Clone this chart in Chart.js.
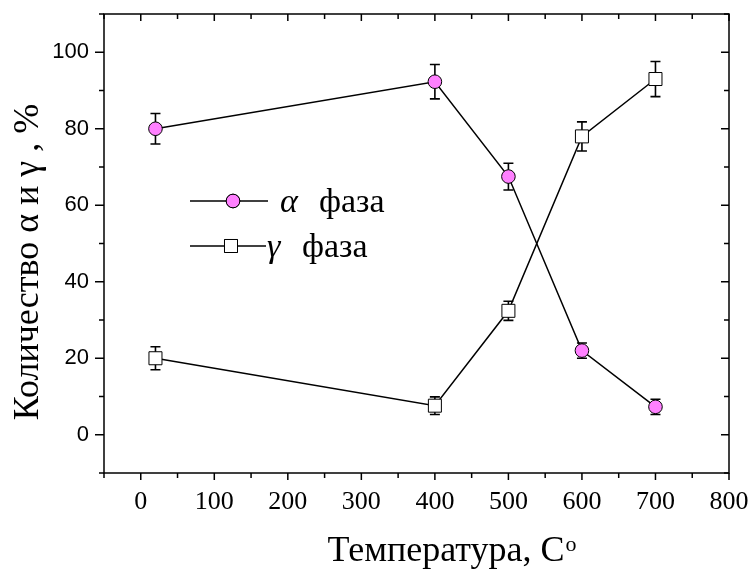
<!DOCTYPE html>
<html>
<head>
<meta charset="utf-8">
<script src="https://cdn.jsdelivr.net/npm/chart.js@4.4.1/dist/chart.umd.min.js"></script>
<style>
    html, body { margin: 0; padding: 0; background: #fff; }
</style>
</head>
<body>
<canvas id="chart" width="751" height="570"></canvas>
<script>
// dades llegides de la figura
const temperatura = [20, 400, 500, 600, 700];
const alfaFaza = [80, 92.3, 67.5, 22, 7.3];
const alfaErr = [4, 4.5, 3.5, 2, 2];
const gamaFaza = [20, 7.6, 32.4, 78, 93];
const gamaErr = [3, 2.3, 2.5, 3.8, 4.6];
const xEtiquetes = [0, 100, 200, 300, 400, 500, 600, 700, 800];
const yEtiquetes = [0, 20, 40, 60, 80, 100];

const serif = '"Liberation Serif", "Times New Roman", serif';
const sans = '"Liberation Sans", Arial, sans-serif';
const rosa = '#ff80ff';

function punts(xs, ys) {
    return xs.map((x, i) => ({ x: x, y: ys[i] }));
}

// barres d'error, sota els marcadors
const errorBars = {
    id: 'errorBars',
    beforeDatasetsDraw(chart) {
        const ctx = chart.ctx;
        const xs = chart.scales.x, ys = chart.scales.y;
        const errs = [alfaErr, gamaErr];
        ctx.save();
        ctx.strokeStyle = '#000';
        ctx.lineWidth = 1.6;
        chart.data.datasets.forEach((ds, d) => {
            ds.data.forEach((p, i) => {
                const px = xs.getPixelForValue(p.x);
                const top = ys.getPixelForValue(p.y + errs[d][i]);
                const bot = ys.getPixelForValue(p.y - errs[d][i]);
                ctx.beginPath();
                ctx.moveTo(px, top); ctx.lineTo(px, bot);
                ctx.moveTo(px - 5, top); ctx.lineTo(px + 5, top);
                ctx.moveTo(px - 5, bot); ctx.lineTo(px + 5, bot);
                ctx.stroke();
            });
        });
        ctx.restore();
    }
};

// marc, marques dels eixos, llegenda i títols
const marc = {
    id: 'marc',
    afterDraw(chart) {
        const ctx = chart.ctx;
        const a = chart.chartArea;
        const xs = chart.scales.x, ys = chart.scales.y;
        ctx.save();
        ctx.strokeStyle = '#000';
        ctx.lineWidth = 1.5;
        ctx.strokeRect(a.left, a.top, a.right - a.left, a.bottom - a.top);

        ctx.beginPath();
        for (let v = -10; v <= 110; v += 10) {
            const y = ys.getPixelForValue(v);
            const major = v % 20 === 0;
            ctx.moveTo(a.left, y); ctx.lineTo(a.left - (major ? 9 : 5), y);
            ctx.moveTo(a.right, y); ctx.lineTo(a.right - (major ? 8 : 5), y);
        }
        for (let v = -50; v <= 800; v += 50) {
            const x = xs.getPixelForValue(v);
            const major = v % 100 === 0;
            ctx.moveTo(x, a.bottom); ctx.lineTo(x, a.bottom + (major ? 7 : 5));
            ctx.moveTo(x, a.top); ctx.lineTo(x, a.top + (major ? 7 : 5));
        }
        ctx.stroke();

        // llegenda
        const files = [
            { y: 201, x1: 190, x2: 268, mx: 233, estil: 'circle', r: 6.8, fons: rosa, lletra: 'α', tx: 280, fx: 319 },
            { y: 246, x1: 190, x2: 266, mx: 231, estil: 'rect', r: 9.2, fons: '#fff', lletra: 'γ', tx: 267, fx: 302 }
        ];
        files.forEach(f => {
            ctx.lineWidth = 1.5;
            ctx.strokeStyle = '#000';
            ctx.beginPath();
            ctx.moveTo(f.x1, f.y); ctx.lineTo(f.x2, f.y);
            ctx.stroke();
            ctx.fillStyle = f.fons;
            ctx.lineWidth = 1;
            Chart.helpers.drawPoint(ctx, { pointStyle: f.estil, radius: f.r, borderWidth: 1 }, f.mx, f.y);
            ctx.fill();
            ctx.stroke();
            ctx.fillStyle = '#000';
            ctx.textBaseline = 'alphabetic';
            ctx.textAlign = 'left';
            ctx.font = 'italic 34px ' + serif;
            ctx.fillText(f.lletra, f.tx, f.y + 11);
            ctx.font = '34px ' + serif;
            ctx.fillText('фаза', f.fx, f.y + 11);
        });

        // títols dels eixos
        ctx.font = '36px ' + serif;
        ctx.textAlign = 'left';
        const titolX = 'Температура, C';
        const w = ctx.measureText(titolX).width;
        const x0 = 446 - w / 2;
        ctx.fillText(titolX, x0, 561);
        ctx.font = '22px ' + serif;
        ctx.fillText('o', x0 + w + 1, 551);

        ctx.translate(38, 262);
        ctx.rotate(-Math.PI / 2);
        ctx.textAlign = 'center';
        ctx.font = '36px ' + serif;
        ctx.fillText('Количество α и γ , %', 0, 0);
        ctx.restore();
    }
};

const ctx = document.getElementById('chart');
const myChart = new Chart(ctx, {
    type: 'line',
    data: {
        datasets: [{
            label: 'α фаза',
            data: punts(temperatura, alfaFaza),
            borderColor: '#000',
            borderWidth: 1.5,
            pointStyle: 'circle',
            pointRadius: 6.8,
            pointBackgroundColor: rosa,
            pointBorderColor: '#000',
            pointBorderWidth: 1
        }, {
            label: 'γ фаза',
            data: punts(temperatura, gamaFaza),
            borderColor: '#000',
            borderWidth: 1.5,
            pointStyle: 'rect',
            pointRadius: 9.2,
            pointBackgroundColor: '#fff',
            pointBorderColor: '#000',
            pointBorderWidth: 1
        }]
    },
    options: {
        responsive: false,
        animation: false,
        layout: { padding: { left: 0, right: 22, top: 14, bottom: 0 } },
        plugins: {
            legend: { display: false },
            tooltip: { enabled: false }
        },
        scales: {
            x: {
                type: 'linear',
                min: -50,
                max: 800,
                grid: { drawOnChartArea: false, drawTicks: false },
                border: { display: false },
                afterFit: (s) => { s.height = 97; s.paddingLeft = 0; s.paddingRight = 0; },
                afterBuildTicks: (s) => { s.ticks = xEtiquetes.map(v => ({ value: v })); },
                ticks: {
                    padding: 14,
                    color: '#000',
                    font: { family: serif, size: 26 },
                    maxRotation: 0
                }
            },
            y: {
                min: -10,
                max: 110,
                grid: { drawOnChartArea: false, drawTicks: false },
                border: { display: false },
                afterFit: (s) => { s.width = 104; s.paddingTop = 0; s.paddingBottom = 0; },
                afterBuildTicks: (s) => { s.ticks = yEtiquetes.map(v => ({ value: v })); },
                ticks: {
                    padding: 15,
                    color: '#000',
                    font: { family: sans, size: 22 }
                }
            }
        }
    },
    plugins: [errorBars, marc]
});
</script>
</body>
</html>
